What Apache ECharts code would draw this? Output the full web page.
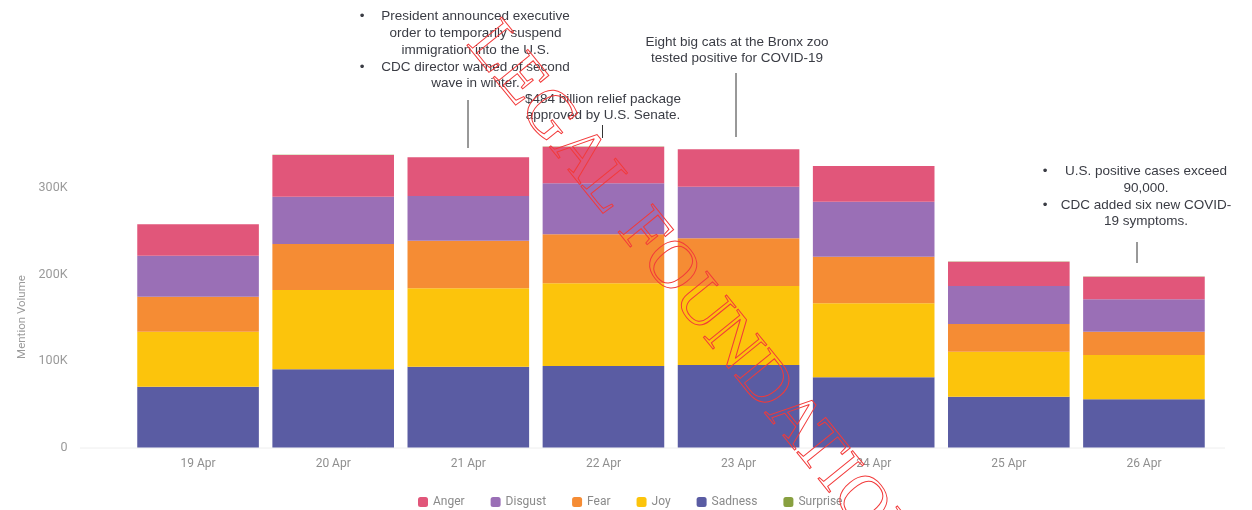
<!DOCTYPE html>
<html>
<head>
<meta charset="utf-8">
<script src="https://cdn.jsdelivr.net/npm/echarts@6/dist/echarts.min.js"></script>
<style>
html,body{margin:0;padding:0;background:#fff;}
#chart{width:1252px;height:510px;}
</style>
</head>
<body>
<div id="chart"></div>
<script>
const categories = ['19 Apr', '20 Apr', '21 Apr', '22 Apr', '23 Apr', '24 Apr', '25 Apr', '26 Apr'];
const sadness  = [70300, 90400, 93400, 94200, 95400, 81200, 58700, 55700];
const joy      = [63600, 91600, 90600, 95600, 91300, 85500, 52100, 51200];
const fear     = [40400, 53300, 55000, 56700, 55100, 53900, 32000, 27000];
const disgust  = [47400, 54700, 51800, 58900, 59700, 63600, 43900, 37400];
const anger    = [36300, 48200, 44700, 42300, 43200, 41200, 28100, 26200];
const surprise = [150, 150, 150, 150, 150, 150, 100, 100];
const yTicks = [0, 100000, 200000, 300000];
const legendOrder = ['Anger', 'Disgust', 'Fear', 'Joy', 'Sadness', 'Surprise'];
const annotationA = ['President announced executive', 'order to temporarily suspend', 'immigration into the U.S.', 'CDC director warned of second', 'wave in winter.'];
const annotationB = ['$484 billion relief package', 'approved by U.S. Senate.'];
const annotationC = ['Eight big cats at the Bronx zoo', 'tested positive for COVID-19'];
const annotationD = ['U.S. positive cases exceed', '90,000.', 'CDC added six new COVID-', '19 symptoms.'];

const colors = {
  Anger: '#e1567a', Disgust: '#9a6fb6', Fear: '#f58c34', Joy: '#fcc40c', Sadness: '#5a5ca3', Surprise: '#88a040'
};
const stackSeries = [
  ['Sadness', sadness], ['Joy', joy], ['Fear', fear], ['Disgust', disgust], ['Anger', anger], ['Surprise', surprise]
];

const textColor = '#3a3c44';
const annFont = 'Liberation Sans';
const annSize = 13.5;
const lh = 16.7;
const graphics = [];
function addLines(lines, cx, y0, bullets, bulletX) {
  lines.forEach((t, i) => {
    graphics.push({type: 'text', x: cx, y: y0 + i * lh, z: 10,
      style: {text: t, fill: textColor, fontFamily: annFont, fontSize: annSize, textAlign: 'center', textVerticalAlign: 'middle'}});
    if (bullets && bullets.indexOf(i) >= 0) {
      graphics.push({type: 'text', x: bulletX, y: y0 + i * lh, z: 10,
        style: {text: '•', fill: textColor, fontFamily: annFont, fontSize: annSize, textAlign: 'center', textVerticalAlign: 'middle'}});
    }
  });
}
function addConnector(x, y1, y2) {
  graphics.push({type: 'line', z: 10, shape: {x1: x, y1: y1, x2: x, y2: y2}, style: {stroke: '#333', lineWidth: 1}});
}
addLines(annotationA, 475.5, 16.7, [0, 3], 362);
addConnector(468, 100, 148);
addLines(annotationB, 603, 99, null);
addConnector(602.5, 125, 138);
addLines(annotationC, 737, 42, null);
addConnector(736, 73, 137);
addLines(annotationD, 1146, 171.5, [0, 2], 1045);
addConnector(1137, 242, 263);

// y axis name
graphics.push({type: 'text', x: 22, y: 317, rotation: Math.PI / 2, z: 5,
  style: {text: 'Mention Volume', fill: '#9a9a9a', fontFamily: 'Roboto', fontSize: 11.5, textAlign: 'center', textVerticalAlign: 'middle'}});
// faint baseline
graphics.push({type: 'line', z: 0, shape: {x1: 80, y1: 448, x2: 1225, y2: 448}, style: {stroke: '#eeeeee', lineWidth: 1}});
// watermark
graphics.push({type: 'text', x: 693, y: 296, rotation: -51 * Math.PI / 180, z: 20, silent: true,
  style: {text: 'LEGAL FOUNDATION', fill: 'rgba(0,0,0,0)', stroke: '#f23a3a', lineWidth: 1, fontFamily: 'Liberation Serif', fontSize: 68, textAlign: 'center', textVerticalAlign: 'middle'}});

const chart = echarts.init(document.getElementById('chart'), null, {renderer: 'canvas'});
chart.setOption({
  animation: false,
  backgroundColor: '#ffffff',
  grid: {left: 130.5, right: 40.5, top: 101.5, bottom: 62.5, containLabel: false},
  legend: {
    top: 491, left: 413, itemWidth: 10, itemHeight: 10, itemGap: 26, icon: 'roundRect',
    data: legendOrder,
    textStyle: {color: '#8a8a8a', fontSize: 12, fontFamily: 'Roboto'}
  },
  xAxis: {
    type: 'category', data: categories,
    axisLine: {show: false}, axisTick: {show: false},
    axisLabel: {color: '#8f8f8f', fontSize: 12, fontFamily: 'Roboto', margin: 10}
  },
  yAxis: {
    type: 'value', min: 0, max: 400000, interval: 100000,
    splitLine: {show: false}, axisLine: {show: false}, axisTick: {show: false},
    axisLabel: {color: '#9a9a9a', fontSize: 12.5, fontFamily: 'Roboto', margin: 63,
      formatter: v => yTicks.indexOf(v) < 0 ? '' : (v === 0 ? '0' : (v / 1000) + 'K')}
  },
  series: stackSeries.map(([name, data]) => ({
    name, type: 'bar', stack: 'total', data, barWidth: '90%',
    itemStyle: {color: colors[name]}
  })),
  graphic: graphics
});
</script>
</body>
</html>
